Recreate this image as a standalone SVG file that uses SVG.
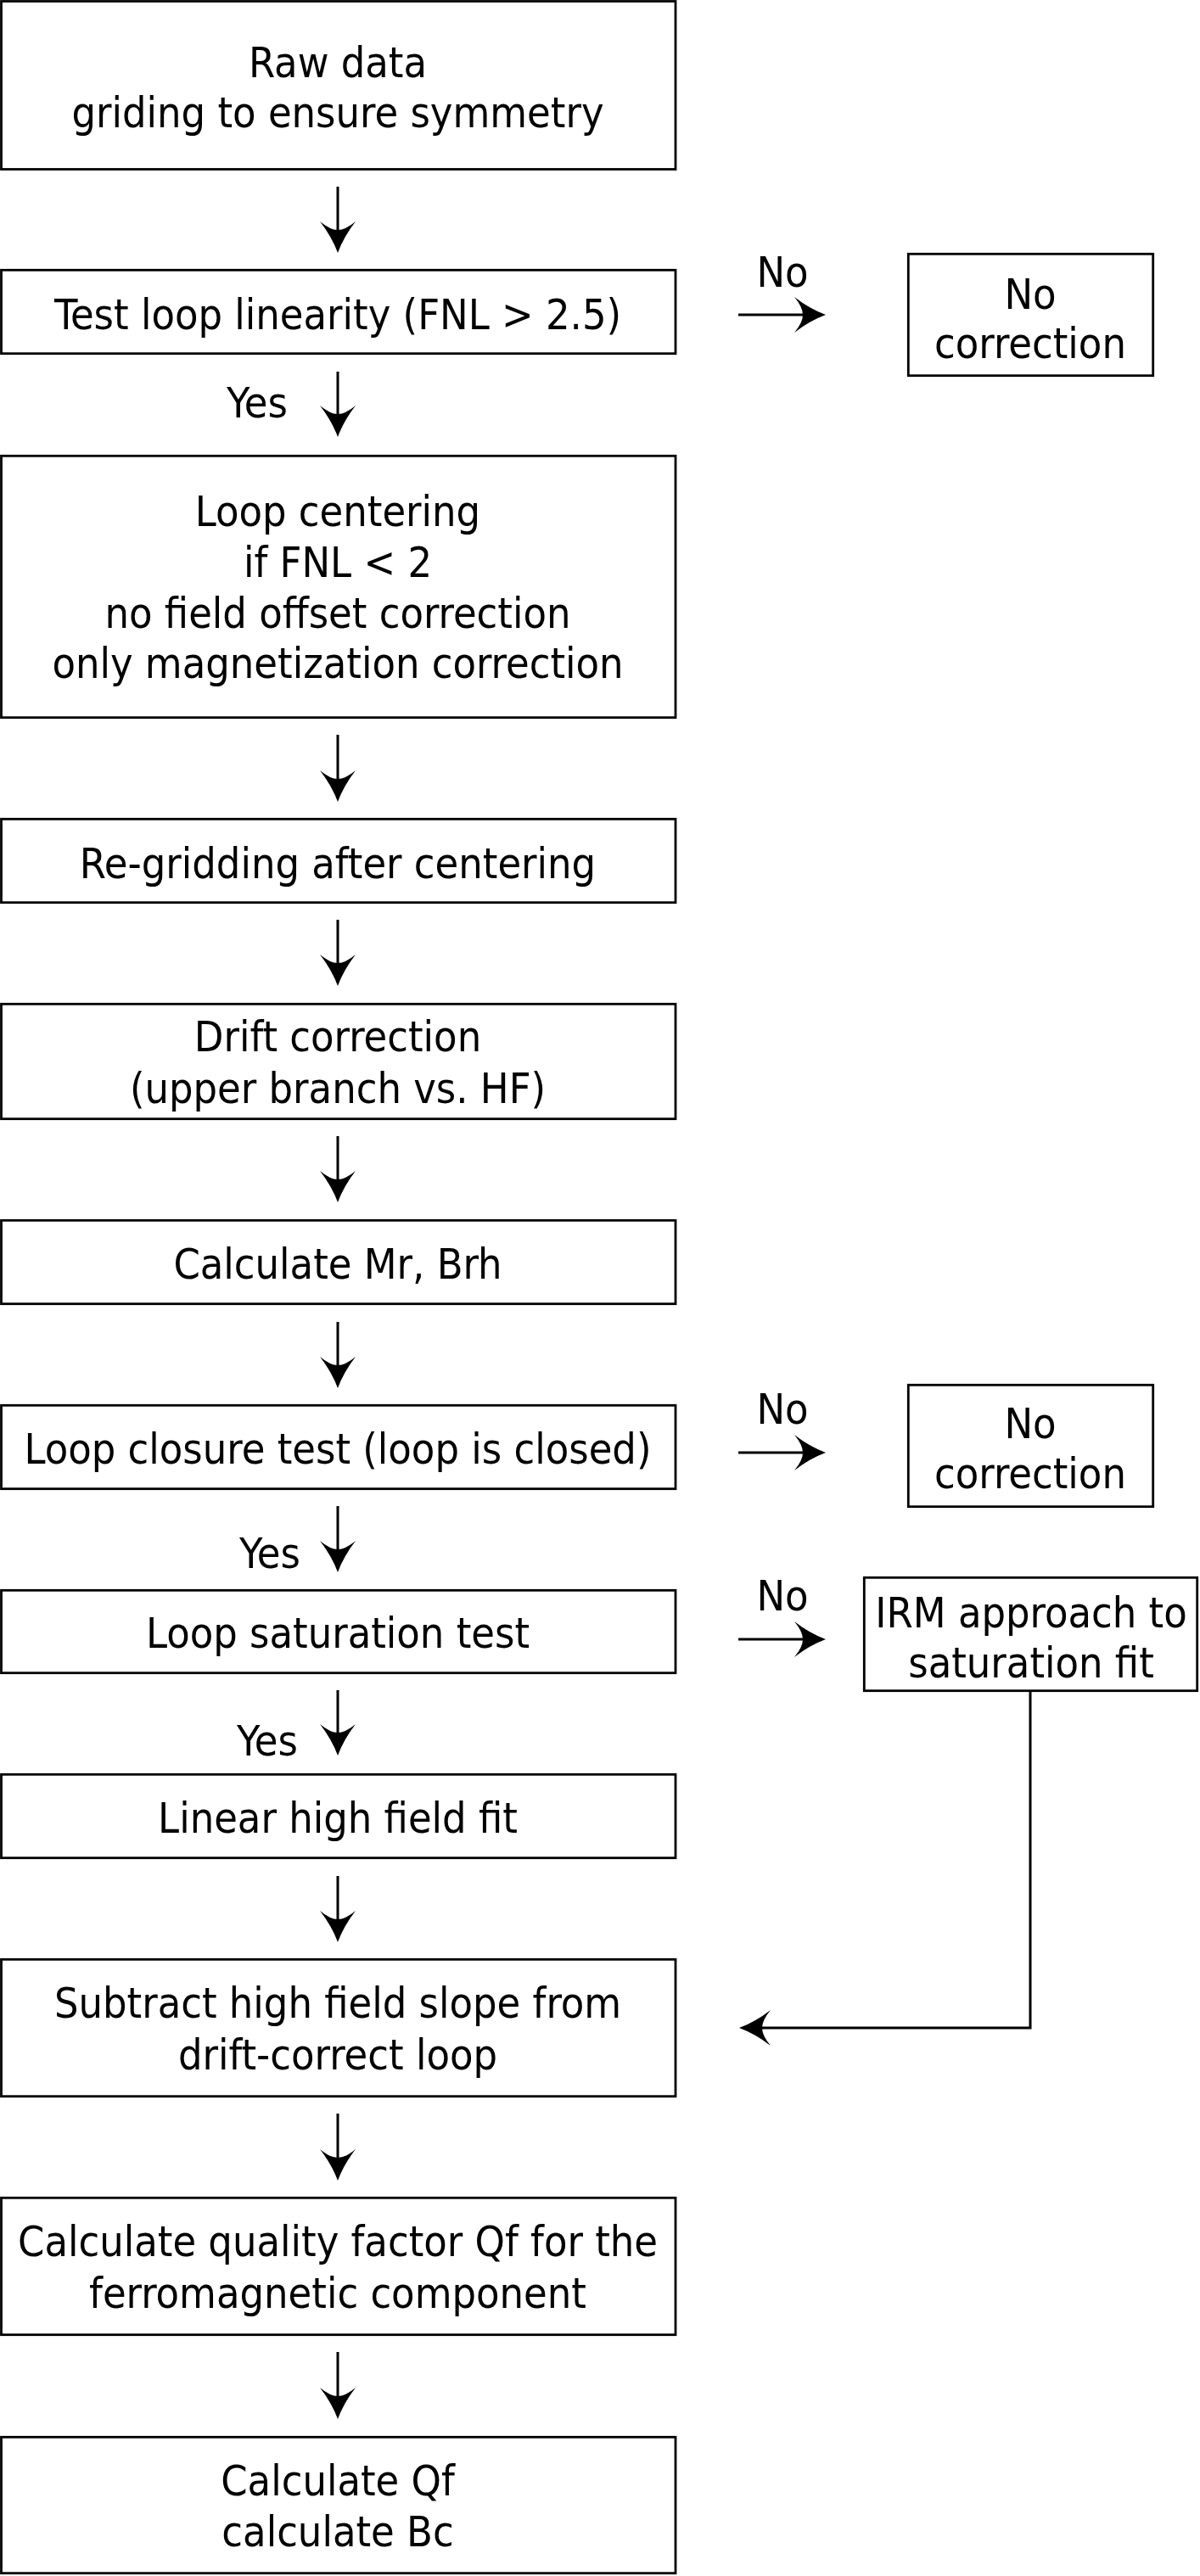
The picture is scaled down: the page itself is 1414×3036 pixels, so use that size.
<svg xmlns="http://www.w3.org/2000/svg" width="1414" height="3036" viewBox="0 0 1414 3036">
<style>
.box{fill:#fff;stroke:#000;stroke-width:2.8}
.t{font-family:"DejaVu Sans Condensed","DejaVu Sans",sans-serif;font-stretch:condensed;font-size:50px;fill:#000;text-anchor:middle}
.c{fill:none;stroke:#000;stroke-width:3}
.a{marker-end:url(#ah)}
</style>
<defs>
<marker id="ah" markerUnits="userSpaceOnUse" markerWidth="40" markerHeight="44" refX="10" refY="22" orient="auto" overflow="visible">
<path d="M37,22 Q18,15 0,1 Q10,13 10,22 Q10,31 0,43 Q18,29 37,22 Z" fill="#000"/>
</marker>
</defs>
<rect width="1414" height="3036" fill="#fff"/>
<g id="connectors">
<path class="c a" d="M398,220 V271"/>
<path class="c a" d="M398,438 V488"/>
<path class="c a" d="M398,866 V918"/>
<path class="c a" d="M398,1084 V1135"/>
<path class="c a" d="M398,1339 V1390"/>
<path class="c a" d="M398,1558 V1609"/>
<path class="c a" d="M398,1775 V1826"/>
<path class="c a" d="M398,1992 V2042"/>
<path class="c a" d="M398,2211 V2262"/>
<path class="c a" d="M398,2491 V2543"/>
<path class="c a" d="M398,2772 V2824"/>
<path class="c a" d="M870,371 H946"/>
<path class="c a" d="M870,1712 H946"/>
<path class="c a" d="M870,1932 H946"/>
<path class="c a" d="M1214,1994 V2390 H898"/>
<text class="t" x="922" y="338">No</text>
<text class="t" x="922" y="1678">No</text>
<text class="t" x="922" y="1898">No</text>
<text class="t" x="303" y="492">Yes</text>
<text class="t" x="318" y="1848">Yes</text>
<text class="t" x="315" y="2069">Yes</text>
</g>
<g id="n1"><rect class="box" x="1.5" y="1.5" width="794.5" height="198"/><text class="t" x="398" y="91">Raw data</text><text class="t" x="398" y="150">griding to ensure symmetry</text></g>
<g id="n2"><rect class="box" x="1.5" y="318.3" width="794.5" height="98.4"/><text class="t" x="398" y="388">Test loop linearity (FNL &gt; 2.5)</text></g>
<g id="n3"><rect class="box" x="1.5" y="537.3" width="794.5" height="308.4"/><text class="t" x="398" y="620">Loop centering</text><text class="t" x="398" y="680">if FNL &lt; 2</text><text class="t" x="398" y="740">no field offset correction</text><text class="t" x="398" y="799">only magnetization correction</text></g>
<g id="n4"><rect class="box" x="1.5" y="965.3" width="794.5" height="98.4"/><text class="t" x="398" y="1035">Re-gridding after centering</text></g>
<g id="n5"><rect class="box" x="1.5" y="1183.3" width="794.5" height="135.4"/><text class="t" x="398" y="1239">Drift correction</text><text class="t" x="398" y="1300">(upper branch vs. HF)</text></g>
<g id="n6"><rect class="box" x="1.5" y="1438.3" width="794.5" height="98.4"/><text class="t" x="398" y="1507">Calculate Mr, Brh</text></g>
<g id="n7"><rect class="box" x="1.5" y="1656.3" width="794.5" height="98.4"/><text class="t" x="398" y="1725">Loop closure test (loop is closed)</text></g>
<g id="n8"><rect class="box" x="1.5" y="1874.3" width="794.5" height="97.4"/><text class="t" x="398" y="1942">Loop saturation test</text></g>
<g id="n9"><rect class="box" x="1.5" y="2091.3" width="794.5" height="98.4"/><text class="t" x="398" y="2160">Linear high field fit</text></g>
<g id="n10"><rect class="box" x="1.5" y="2309.3" width="794.5" height="161.4"/><text class="t" x="398" y="2378">Subtract high field slope from</text><text class="t" x="398" y="2439">drift-correct loop</text></g>
<g id="n11"><rect class="box" x="1.5" y="2590.3" width="794.5" height="161.4"/><text class="t" x="398" y="2659">Calculate quality factor Qf for the</text><text class="t" x="398" y="2720">ferromagnetic component</text></g>
<g id="n12"><rect class="box" x="1.5" y="2872.3" width="794.5" height="160.4"/><text class="t" x="398" y="2941">Calculate Qf</text><text class="t" x="398" y="3001">calculate Bc</text></g>
<g id="nc1"><rect class="box" x="1070.3" y="299.3" width="288.4" height="143.4"/><text class="t" x="1214" y="364">No</text><text class="t" x="1214" y="422">correction</text></g>
<g id="nc2"><rect class="box" x="1070.3" y="1632.3" width="288.4" height="143.4"/><text class="t" x="1214" y="1695">No</text><text class="t" x="1214" y="1754">correction</text></g>
<g id="irm"><rect class="box" x="1018.3" y="1859.3" width="392.4" height="133.4"/><text class="t" x="1215" y="1918">IRM approach to</text><text class="t" x="1215" y="1977">saturation fit</text></g>
</svg>
